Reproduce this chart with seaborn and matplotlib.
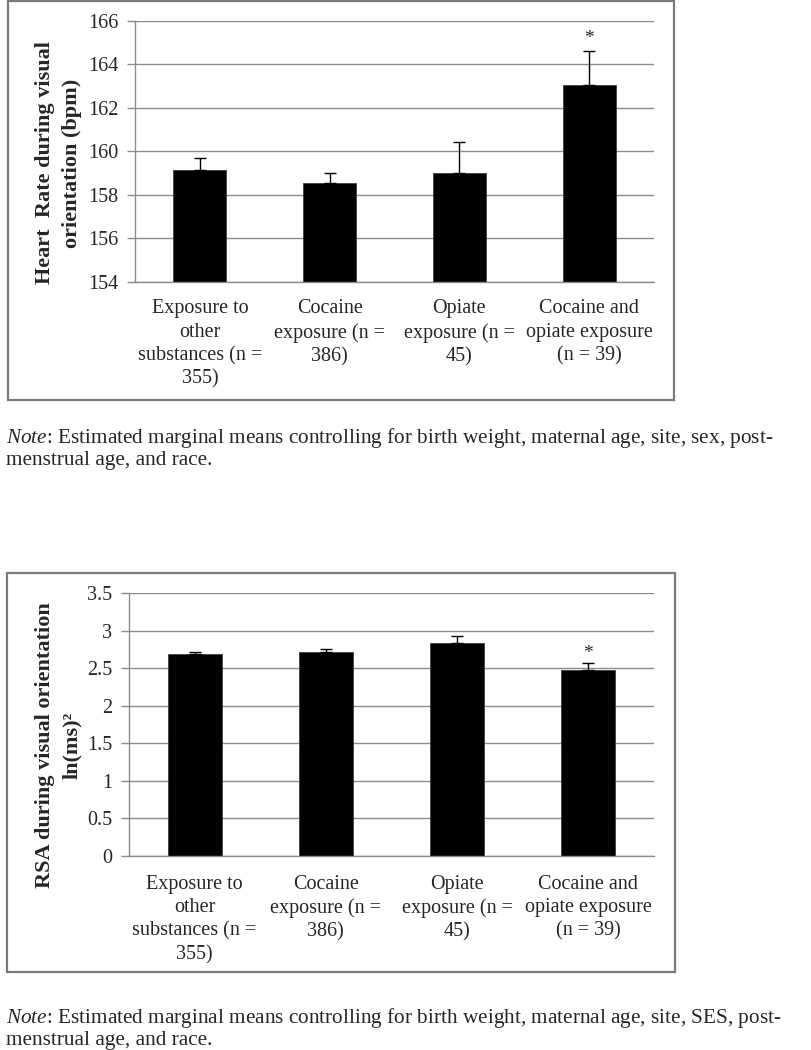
import numpy as np
import pandas as pd
import seaborn as sns
import matplotlib
matplotlib.use("Agg")
from matplotlib import pyplot as plt
from matplotlib.patches import Rectangle

# data
groups = [
    "Exposure to\nother\nsubstances (n =\n355)",
    "Cocaine\nexposure (n =\n386)",
    "Opiate\nexposure (n =\n45)",
    "Cocaine and\nopiate exposure\n(n = 39)",
]
hr_means = [159.15, 158.55, 159.0, 163.07]
hr_err = [0.57, 0.47, 1.42, 1.55]
rsa_means = [2.69, 2.72, 2.84, 2.47]
rsa_err = [0.03, 0.03, 0.09, 0.10]
signif = ["", "", "", "*"]

hr_ticks = [154, 156, 158, 160, 162, 164, 166]
rsa_ticks = [0, 0.5, 1, 1.5, 2, 2.5, 3, 3.5]
rsa_ticklabels = ["0", "0.5", "1", "1.5", "2", "2.5", "3", "3.5"]

hr_note = (r"$\mathit{Note}$: Estimated marginal means controlling for birth weight, "
           "maternal age, site, sex, post-\nmenstrual age, and race.")
rsa_note = (r"$\mathit{Note}$: Estimated marginal means controlling for birth weight, "
            "maternal age, site, SES, post-\nmenstrual age, and race.")

GRID = "#8c8c8c"
FS = 14.5

sns.set_theme(style="white")
plt.rcParams["font.family"] = ["Liberation Serif", "DejaVu Serif"]
plt.rcParams["mathtext.fontset"] = "custom"
plt.rcParams["mathtext.rm"] = "Liberation Serif"
plt.rcParams["mathtext.it"] = "Liberation Serif:italic"
plt.rcParams["mathtext.bf"] = "Liberation Serif:bold"

W, H = 812, 1050
fig = plt.figure(figsize=(W / 100, H / 100), dpi=100)


def px_axes(left, top, right, bottom):
    return fig.add_axes([left / W, 1 - bottom / H, (right - left) / W, (bottom - top) / H])


def panel(ax, means, errs, ticks, ticklabels, ylabel, label_xy, star_off, xpad):
    df = pd.DataFrame({"group": groups, "value": means})
    sns.barplot(data=df, x="group", y="value", color="black", saturation=1,
                width=0.41, errorbar=None, edgecolor="#404040", linewidth=0.6, ax=ax)
    pos = np.arange(len(groups))
    ax.errorbar(pos, means, yerr=[np.zeros(len(errs)), errs], fmt="none",
                ecolor="black", elinewidth=1.0, capsize=4, capthick=1.0, zorder=3)
    for i, s in enumerate(signif):
        if s:
            ax.annotate(s, xy=(pos[i], means[i] + errs[i]), xytext=(0, star_off),
                        textcoords="offset points", ha="center", va="center",
                        fontsize=14)

    ax.set_ylim(ticks[0], ticks[-1])
    ax.set_yticks(ticks)
    ax.set_yticklabels(ticklabels)
    ax.set_xlim(-0.5, len(groups) - 0.5)
    ax.set_xticks(pos)
    ax.set_xticklabels(groups, linespacing=1.3)
    ax.set_xticks(np.arange(len(groups) + 1) - 0.5, minor=True)
    ax.tick_params(axis="x", which="major", length=0, pad=xpad, labelsize=FS)
    ax.tick_params(axis="x", which="minor", length=6, width=1, color=GRID, direction="out")
    ax.tick_params(axis="y", length=6, width=1, color=GRID, direction="out",
                   pad=6, labelsize=FS, left=True)
    ax.yaxis.grid(True, color=GRID, lw=1)
    ax.set_axisbelow(True)
    for side in ["top", "right"]:
        ax.spines[side].set_visible(False)
    for side in ["left", "bottom"]:
        ax.spines[side].set_color(GRID)
        ax.spines[side].set_linewidth(1)
    ax.set_xlabel("")
    ax.set_ylabel(ylabel, fontsize=16, fontweight="bold", linespacing=1.45)
    ax.yaxis.set_label_coords(*label_xy)


# top panel: heart rate
ax1 = px_axes(135, 21, 654, 282)
panel(ax1, hr_means, hr_err, hr_ticks, [str(t) for t in hr_ticks],
      "Heart  Rate during visual\norientation (bpm)", (-0.102, 0.456), 9, 12.5)

# bottom panel: RSA
ax2 = px_axes(129, 593, 654, 856)
panel(ax2, rsa_means, rsa_err, rsa_ticks, rsa_ticklabels,
      "RSA during visual orientation\nln(ms)\u00b2", (-0.09, 0.42), 7, 13.5)

# frames around each chart
for (l, t, r, b) in [(8, 1, 674, 400), (7, 573, 675, 972)]:
    fig.patches.append(Rectangle((l / W, 1 - b / H), (r - l) / W, (b - t) / H,
                                 transform=fig.transFigure, fill=False,
                                 edgecolor="#7a7a7a", lw=1.6))

fig.text(6 / W, 1 - 426 / H, hr_note, fontsize=15.3, va="top", linespacing=1.1)
fig.text(6 / W, 1 - 1006 / H, rsa_note, fontsize=15.3, va="top", linespacing=1.1)

fig.savefig("out.png", dpi=100)
